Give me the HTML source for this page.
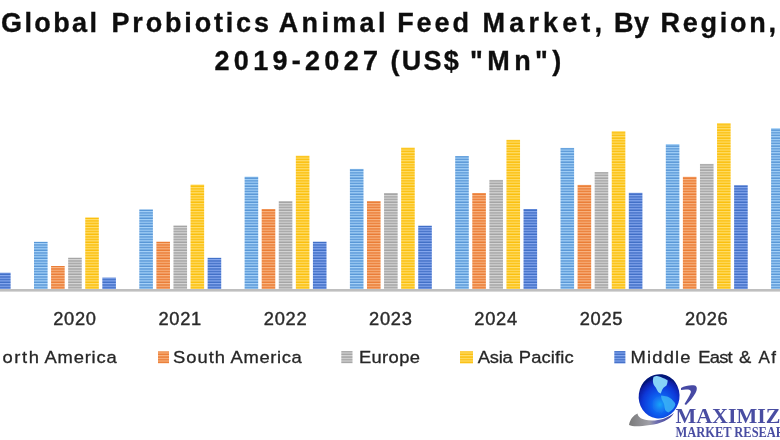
<!DOCTYPE html>
<html><head><meta charset="utf-8">
<style>
html,body{margin:0;padding:0;background:#fff;width:780px;height:440px;overflow:hidden}
svg{display:block}
.t{font-family:"Liberation Sans",sans-serif;font-weight:bold;font-size:27px;fill:#111;stroke:#111;stroke-width:0.35}
.yr{font-family:"Liberation Sans",sans-serif;font-size:18.3px;fill:#2a2a2a;stroke:#2a2a2a;stroke-width:0.4}
.lg{font-family:"Liberation Sans",sans-serif;font-size:17px;fill:#262626;stroke:#262626;stroke-width:0.3}
.lm{font-family:"Liberation Serif",serif;font-weight:bold;fill:#4a4ea2}
.lm2{font-family:"Liberation Serif",serif;font-weight:bold;fill:#4a4ea2}
</style></head>
<body>
<svg width="780" height="440" viewBox="0 0 780 440">
<defs>
<pattern id="pLB" patternUnits="userSpaceOnUse" width="20" height="2.67"><rect width="20" height="2.67" fill="#5896D6"/><rect y="0" width="20" height="1.202" fill="#A8D4FA"/></pattern>
<pattern id="pOR" patternUnits="userSpaceOnUse" width="20" height="2.67"><rect width="20" height="2.67" fill="#EA7C35"/><rect y="0" width="20" height="1.202" fill="#F9B684"/></pattern>
<pattern id="pGR" patternUnits="userSpaceOnUse" width="20" height="2.67"><rect width="20" height="2.67" fill="#A4A4A4"/><rect y="0" width="20" height="1.202" fill="#D6D6D6"/></pattern>
<pattern id="pYE" patternUnits="userSpaceOnUse" width="20" height="2.67"><rect width="20" height="2.67" fill="#FBBF0C"/><rect y="0" width="20" height="1.202" fill="#FFDF70"/></pattern>
<pattern id="pDB" patternUnits="userSpaceOnUse" width="20" height="2.67"><rect width="20" height="2.67" fill="#416EC6"/><rect y="0" width="20" height="1.202" fill="#88AAF0"/></pattern>
<radialGradient id="globe" cx="0.55" cy="0.68" r="0.62">
<stop offset="0" stop-color="#18a4f8"/><stop offset="0.35" stop-color="#1060f0"/><stop offset="0.7" stop-color="#0a38d8"/><stop offset="0.9" stop-color="#0820a8"/><stop offset="1" stop-color="#061478"/>
</radialGradient>
<filter id="bl" x="-20%" y="-20%" width="140%" height="140%"><feGaussianBlur stdDeviation="0.5"/></filter>
<filter id="bl2" x="0" y="0" width="780" height="440" filterUnits="userSpaceOnUse"><feGaussianBlur stdDeviation="0.4"/></filter>
<linearGradient id="swg" x1="0" y1="0" x2="1" y2="0">
<stop offset="0" stop-color="#7a7a7a"/><stop offset="0.45" stop-color="#a0a0a8"/><stop offset="0.6" stop-color="#7070b0"/><stop offset="1" stop-color="#3a3a9a"/>
</linearGradient>
</defs>
<rect x="0" y="0" width="780" height="440" fill="#fff"/>
<g filter="url(#bl2)">
<text class="t" x="1.00" y="31.8" textLength="96.00" lengthAdjust="spacing">Global</text>
<text class="t" x="111.50" y="31.8" textLength="157.50" lengthAdjust="spacing">Probiotics</text>
<text class="t" x="278.70" y="31.8" textLength="106.80" lengthAdjust="spacing">Animal</text>
<text class="t" x="397.20" y="31.8" textLength="71.80" lengthAdjust="spacing">Feed</text>
<text class="t" x="482.60" y="31.8" textLength="119.40" lengthAdjust="spacing">Market,</text>
<text class="t" x="614.00" y="31.8" textLength="35.00" lengthAdjust="spacing">By</text>
<text class="t" x="660.50" y="31.8" textLength="115.50" lengthAdjust="spacing">Region,</text>
<text class="t" x="214.50" y="69.5" textLength="163.50" lengthAdjust="spacing">2019-2027</text>
<text class="t" x="390.50" y="69.5" textLength="68.20" lengthAdjust="spacing">(US$</text>
<text class="t" x="470.00" y="69.5" textLength="91.30" lengthAdjust="spacing">"Mn")</text>
<rect x="-2.98" y="272.70" width="13.6" height="16.30" fill="url(#pDB)"/>
<rect x="34.00" y="241.80" width="13.6" height="47.20" fill="url(#pLB)"/>
<rect x="51.08" y="266.00" width="13.6" height="23.00" fill="url(#pOR)"/>
<rect x="68.16" y="257.70" width="13.6" height="31.30" fill="url(#pGR)"/>
<rect x="85.24" y="217.50" width="13.6" height="71.50" fill="url(#pYE)"/>
<rect x="102.32" y="277.60" width="13.6" height="11.40" fill="url(#pDB)"/>
<rect x="139.30" y="209.40" width="13.6" height="79.60" fill="url(#pLB)"/>
<rect x="156.38" y="241.70" width="13.6" height="47.30" fill="url(#pOR)"/>
<rect x="173.46" y="225.50" width="13.6" height="63.50" fill="url(#pGR)"/>
<rect x="190.54" y="184.60" width="13.6" height="104.40" fill="url(#pYE)"/>
<rect x="207.62" y="257.80" width="13.6" height="31.20" fill="url(#pDB)"/>
<rect x="244.60" y="176.70" width="13.6" height="112.30" fill="url(#pLB)"/>
<rect x="261.68" y="209.00" width="13.6" height="80.00" fill="url(#pOR)"/>
<rect x="278.76" y="201.10" width="13.6" height="87.90" fill="url(#pGR)"/>
<rect x="295.84" y="155.70" width="13.6" height="133.30" fill="url(#pYE)"/>
<rect x="312.92" y="241.70" width="13.6" height="47.30" fill="url(#pDB)"/>
<rect x="349.90" y="168.90" width="13.6" height="120.10" fill="url(#pLB)"/>
<rect x="366.98" y="201.10" width="13.6" height="87.90" fill="url(#pOR)"/>
<rect x="384.06" y="193.00" width="13.6" height="96.00" fill="url(#pGR)"/>
<rect x="401.14" y="147.60" width="13.6" height="141.40" fill="url(#pYE)"/>
<rect x="418.22" y="225.70" width="13.6" height="63.30" fill="url(#pDB)"/>
<rect x="455.20" y="156.00" width="13.6" height="133.00" fill="url(#pLB)"/>
<rect x="472.28" y="193.00" width="13.6" height="96.00" fill="url(#pOR)"/>
<rect x="489.36" y="179.90" width="13.6" height="109.10" fill="url(#pGR)"/>
<rect x="506.44" y="139.80" width="13.6" height="149.20" fill="url(#pYE)"/>
<rect x="523.52" y="209.00" width="13.6" height="80.00" fill="url(#pDB)"/>
<rect x="560.50" y="147.90" width="13.6" height="141.10" fill="url(#pLB)"/>
<rect x="577.58" y="184.90" width="13.6" height="104.10" fill="url(#pOR)"/>
<rect x="594.66" y="172.00" width="13.6" height="117.00" fill="url(#pGR)"/>
<rect x="611.74" y="131.20" width="13.6" height="157.80" fill="url(#pYE)"/>
<rect x="628.82" y="192.80" width="13.6" height="96.20" fill="url(#pDB)"/>
<rect x="665.80" y="144.10" width="13.6" height="144.90" fill="url(#pLB)"/>
<rect x="682.88" y="176.80" width="13.6" height="112.20" fill="url(#pOR)"/>
<rect x="699.96" y="163.90" width="13.6" height="125.10" fill="url(#pGR)"/>
<rect x="717.04" y="123.10" width="13.6" height="165.90" fill="url(#pYE)"/>
<rect x="734.12" y="185.20" width="13.6" height="103.80" fill="url(#pDB)"/>
<rect x="771.10" y="128.20" width="13.6" height="160.80" fill="url(#pLB)"/>
<rect x="0" y="289" width="780" height="2.6" fill="#BFBFBF"/>
<text class="yr" x="53.16" y="324.6" textLength="42.80" lengthAdjust="spacing">2020</text>
<text class="yr" x="158.46" y="324.6" textLength="42.80" lengthAdjust="spacing">2021</text>
<text class="yr" x="263.76" y="324.6" textLength="42.80" lengthAdjust="spacing">2022</text>
<text class="yr" x="369.06" y="324.6" textLength="42.80" lengthAdjust="spacing">2023</text>
<text class="yr" x="474.36" y="324.6" textLength="42.80" lengthAdjust="spacing">2024</text>
<text class="yr" x="579.66" y="324.6" textLength="42.80" lengthAdjust="spacing">2025</text>
<text class="yr" x="684.96" y="324.6" textLength="42.80" lengthAdjust="spacing">2026</text>
<rect x="158" y="351.3" width="11" height="12" fill="url(#pOR)"/>
<rect x="341.3" y="351" width="11.2" height="12.3" fill="url(#pGR)"/>
<rect x="460" y="351.2" width="13" height="12.3" fill="url(#pYE)"/>
<rect x="614.3" y="351" width="11.1" height="12.5" fill="url(#pDB)"/>
<text class="lg" transform="translate(2.52,0) scale(1.08,1)" x="0" y="363.2" textLength="33.70" lengthAdjust="spacing">orth</text>
<text class="lg" transform="translate(44.52,0) scale(1.08,1)" x="0" y="363.2" textLength="66.76" lengthAdjust="spacing">America</text>
<text class="lg" transform="translate(173.12,0) scale(1.08,1)" x="0" y="363.2" textLength="47.96" lengthAdjust="spacing">South</text>
<text class="lg" transform="translate(230.62,0) scale(1.08,1)" x="0" y="363.2" textLength="65.93" lengthAdjust="spacing">America</text>
<text class="lg" transform="translate(358.92,0) scale(1.08,1)" x="0" y="363.2" textLength="56.48" lengthAdjust="spacing">Europe</text>
<text class="lg" transform="translate(477.72,0) scale(1.08,1)" x="0" y="363.2" textLength="32.41" lengthAdjust="spacing">Asia</text>
<text class="lg" transform="translate(518.82,0) scale(1.08,1)" x="0" y="363.2" textLength="50.74" lengthAdjust="spacing">Pacific</text>
<text class="lg" transform="translate(630.62,0) scale(1.08,1)" x="0" y="363.2" textLength="55.46" lengthAdjust="spacing">Middle</text>
<text class="lg" transform="translate(698.32,0) scale(1.08,1)" x="0" y="363.2" textLength="31.85" lengthAdjust="spacing">East</text>
<text class="lg" transform="translate(738.92,0) scale(1.08,1)" x="0" y="363.2" textLength="13.24" lengthAdjust="spacing">&amp;</text>
<text class="lg" x="758.5" y="363.2" letter-spacing="1.3">Af</text>
<text class="lg" x="-12" y="363.2">N</text>
</g>
<!-- logo -->
<g filter="url(#bl)">
<path d="M629,425 C630,419 634,415 637.5,413.5 C638,417 641,420 652,420.5 C660,420.5 668,418 674,413 C670,420 660,424 650,425 C640,426.5 633,427 629,425 Z" fill="url(#swg)"/>
<ellipse cx="659.1" cy="396.3" rx="20.4" ry="22.2" fill="url(#globe)" transform="rotate(8 659.1 396.3)"/>
<path d="M653.5,377.1 C655,376 656,376 657,376 C660,376.5 662,377.5 663.5,378.3 C665.5,379 667,380 667.7,380.6 C667.5,383 667,384.5 666.5,385.4 C665,386.5 664.5,387 663.5,387.7 C662.5,389 662,390 661.8,390.7 C661.2,392 661,393 660.6,393.6 C659.5,393 658.8,392.5 658.2,391.9 C657.2,390.5 656.5,389 655.9,387.7 C655,386.5 654,385.5 653.5,384.2 C653,382.5 652.8,381 652.9,380 C653,379 653.2,378 653.5,377.1 Z" fill="#86d2f8"/>
<path d="M661.2,395.4 C663,395.5 665,396 667.1,396.6 C669.5,397.5 671.5,399 673,400.7 C674.5,402 675,403 675.4,404.3 C675,406.5 674,408 673,409 C671.5,410.5 670,411.5 668.3,412.6 C667,412 666,411 665.3,410.2 C664.5,408 664.3,406 664.1,404.3 C663.5,402.5 662.5,401 661.8,399.6 C661.3,398 661,396.5 661.2,395.4 Z" fill="#3cb4f6" opacity="0.85"/>
<path d="M681,388 C685,385.5 691,384.8 695,385.5 C697.5,386.5 697.2,390 695.5,393 C693,397.5 689.5,401.5 686,405 L684.5,404 C687,400 689.5,396 690.8,392.5 C691.5,390 689,389.5 686,389.5 C684,389.6 682.5,389.8 681,390 Z" fill="#464aa4"/>
</g>
<g filter="url(#bl2)"><text class="lm" x="675.5" y="423.2" font-size="22" textLength="119.5" lengthAdjust="spacing">MAXIMIZE</text>
<text class="lm2" x="675.5" y="436.7" font-size="13.6" textLength="128" lengthAdjust="spacingAndGlyphs">MARKET RESEARCH</text></g>
</svg>
</body></html>
